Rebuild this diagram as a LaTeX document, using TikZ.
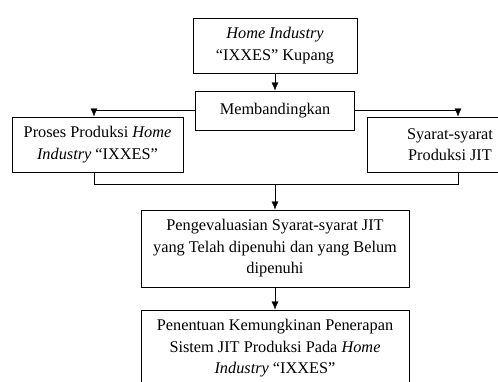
\documentclass[tikz,border=0pt]{standalone}
\usepackage{fontspec}
\setmainfont{Liberation Serif}
\usetikzlibrary{arrows.meta}
\tikzset{box/.style={draw, line width=1pt, align=center, inner sep=0pt,
    font=\fontsize{16.3}{21.5}\selectfont},
    >={Latex[length=8pt, width=7pt]}}

\begin{document}
\begin{tikzpicture}[x=1pt, y=-1pt]
    \useasboundingbox (0, 0) rectangle (498, 381);
    \node [box, minimum width=164, minimum height=55] (home) at (275, 45.5)
        {\textit{Home Industry}\\“IXXES” Kupang};
    \node [box, minimum width=159, minimum height=39] (banding) at (275, 110.5)
        {Membandingkan};
    \node [box, minimum width=171, minimum height=55] (proses) at (97.5, 144.5)
        {Proses Produksi \textit{Home}\\\textit{Industry} “IXXES”};
    \node [box, minimum width=166, minimum height=55] (syarat) at (450, 144.5)
        {Syarat-syarat\\Produksi JIT};
    \node [box, minimum width=268, minimum height=77] (evaluasi) at (275, 248.5)
        {Pengevaluasian Syarat-syarat JIT\\yang Telah dipenuhi dan yang Belum\\dipenuhi};
    \node [box, minimum width=268, minimum height=77] (penentuan) at (275, 348.5)
        {Penentuan Kemungkinan Penerapan\\Sistem JIT Produksi Pada \textit{Home}\\\textit{Industry} “IXXES”};
    \coordinate (gabung) at (275, 184);
    \draw [->] (home) -- (banding);
    \draw [->] (banding.west) -| ([xshift=-3.5]proses.north);
    \draw [->] (banding.east) -| ([xshift=8]syarat.north);
    \draw ([xshift=-3.5]proses.south) |- (gabung);
    \draw ([xshift=8]syarat.south) |- (gabung);
    \draw [->] (gabung) -- (evaluasi);
    \draw [->] (evaluasi) -- (penentuan);
\end{tikzpicture}
\end{document}
